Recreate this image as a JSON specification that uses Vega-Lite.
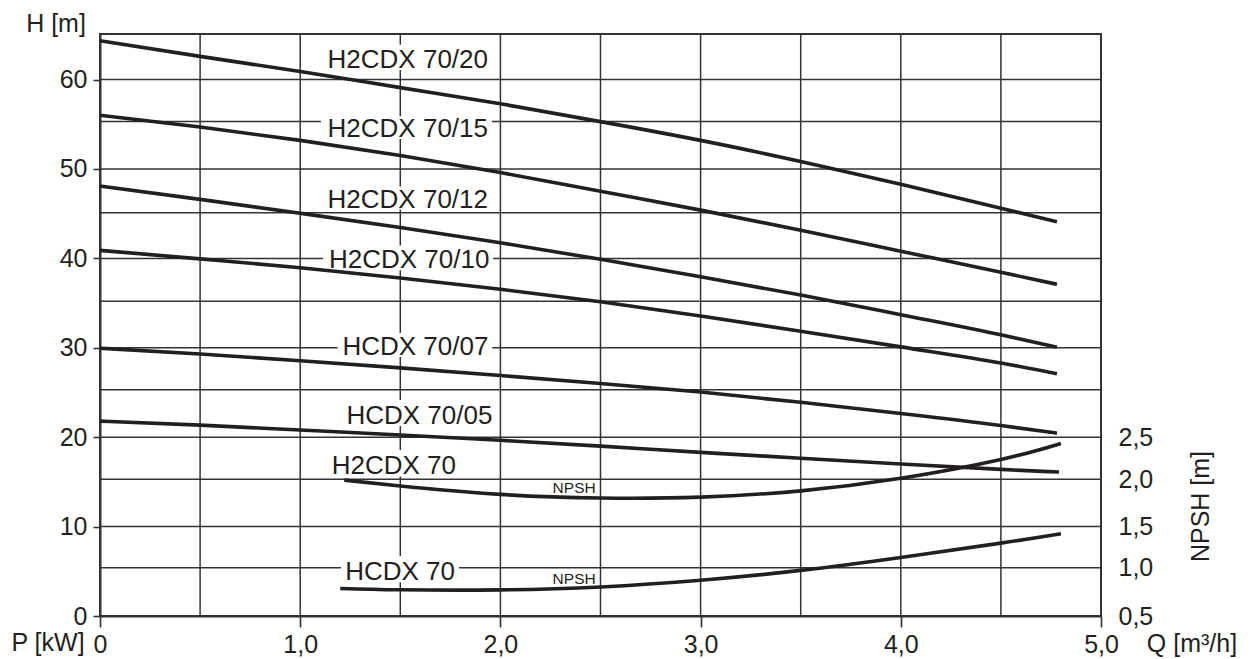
{
  "$schema": "https://vega.github.io/schema/vega-lite/v6.json",
  "width": 1001,
  "height": 582,
  "autosize": {"type": "none"},
  "padding": {"left": 100, "top": 34, "right": 157, "bottom": 43},
  "background": "white",
  "config": {
    "view": {"stroke": "#333333", "strokeWidth": 2},
    "font": "Liberation Sans",
    "axis": {
      "labelFont": "Liberation Sans",
      "titleFont": "Liberation Sans",
      "labelColor": "#231f20",
      "titleColor": "#231f20",
      "labelFontSize": 25,
      "titleFontSize": 25,
      "titleFontWeight": "normal",
      "domainColor": "#333333",
      "tickColor": "#333333",
      "domainWidth": 2,
      "tickWidth": 1.6,
      "grid": false,
      "labelFlush": false,
      "labelOverlap": false
    }
  },
  "datasets": {
    "vgrid": [
      {"Q": 0.5}, {"Q": 1}, {"Q": 1.5}, {"Q": 2}, {"Q": 2.5},
      {"Q": 3}, {"Q": 3.5}, {"Q": 4}, {"Q": 4.5}
    ],
    "hgrid": [
      {"H": 5.4}, {"H": 10}, {"H": 15.3}, {"H": 20}, {"H": 25.3}, {"H": 30},
      {"H": 35.2}, {"H": 40}, {"H": 45.1}, {"H": 50}, {"H": 55.3}, {"H": 60}
    ],
    "boxes": [
      {"label": "H2CDX 70/20", "Q1": 1.104, "Q2": 1.958, "H1": 61.07, "H2": 63.9},
      {"label": "H2CDX 70/15", "Q1": 1.104, "Q2": 1.958, "H1": 53.35, "H2": 55.9},
      {"label": "H2CDX 70/12", "Q1": 1.104, "Q2": 1.958, "H1": 45.46, "H2": 48.03},
      {"label": "H2CDX 70/10", "Q1": 1.114, "Q2": 1.964, "H1": 38.68, "H2": 41.45},
      {"label": "HCDX 70/07", "Q1": 1.187, "Q2": 1.959, "H1": 28.97, "H2": 31.66},
      {"label": "HCDX 70/05", "Q1": 1.204, "Q2": 1.983, "H1": 21.24, "H2": 24.16},
      {"label": "H2CDX 70", "Q1": 1.138, "Q2": 1.798, "H1": 15.6, "H2": 18.56},
      {"label": "HCDX 70", "Q1": 1.204, "Q2": 1.793, "H1": 3.77, "H2": 6.72}
    ],
    "curves": [
      {"model": "H2CDX 70/20", "Q": 0, "H": 64.35},
      {"model": "H2CDX 70/20", "Q": 0.5, "H": 62.6},
      {"model": "H2CDX 70/20", "Q": 1, "H": 60.9},
      {"model": "H2CDX 70/20", "Q": 1.5, "H": 59.1},
      {"model": "H2CDX 70/20", "Q": 2, "H": 57.3},
      {"model": "H2CDX 70/20", "Q": 2.5, "H": 55.3},
      {"model": "H2CDX 70/20", "Q": 3, "H": 53.2},
      {"model": "H2CDX 70/20", "Q": 3.5, "H": 50.85},
      {"model": "H2CDX 70/20", "Q": 4, "H": 48.3},
      {"model": "H2CDX 70/20", "Q": 4.5, "H": 45.6},
      {"model": "H2CDX 70/20", "Q": 4.78, "H": 44.1},
      {"model": "H2CDX 70/15", "Q": 0, "H": 56.0},
      {"model": "H2CDX 70/15", "Q": 0.5, "H": 54.7},
      {"model": "H2CDX 70/15", "Q": 1, "H": 53.2},
      {"model": "H2CDX 70/15", "Q": 1.5, "H": 51.5},
      {"model": "H2CDX 70/15", "Q": 2, "H": 49.6},
      {"model": "H2CDX 70/15", "Q": 2.5, "H": 47.5},
      {"model": "H2CDX 70/15", "Q": 3, "H": 45.4},
      {"model": "H2CDX 70/15", "Q": 3.5, "H": 43.15},
      {"model": "H2CDX 70/15", "Q": 4, "H": 40.8},
      {"model": "H2CDX 70/15", "Q": 4.5, "H": 38.45},
      {"model": "H2CDX 70/15", "Q": 4.78, "H": 37.1},
      {"model": "H2CDX 70/12", "Q": 0, "H": 48.1},
      {"model": "H2CDX 70/12", "Q": 0.5, "H": 46.6},
      {"model": "H2CDX 70/12", "Q": 1, "H": 45.05},
      {"model": "H2CDX 70/12", "Q": 1.5, "H": 43.45},
      {"model": "H2CDX 70/12", "Q": 2, "H": 41.75},
      {"model": "H2CDX 70/12", "Q": 2.5, "H": 39.9},
      {"model": "H2CDX 70/12", "Q": 3, "H": 37.95},
      {"model": "H2CDX 70/12", "Q": 3.5, "H": 35.9},
      {"model": "H2CDX 70/12", "Q": 4, "H": 33.7},
      {"model": "H2CDX 70/12", "Q": 4.5, "H": 31.45},
      {"model": "H2CDX 70/12", "Q": 4.78, "H": 30.05},
      {"model": "H2CDX 70/10", "Q": 0, "H": 40.9},
      {"model": "H2CDX 70/10", "Q": 0.5, "H": 39.95},
      {"model": "H2CDX 70/10", "Q": 1, "H": 38.95},
      {"model": "H2CDX 70/10", "Q": 1.5, "H": 37.8},
      {"model": "H2CDX 70/10", "Q": 2, "H": 36.55},
      {"model": "H2CDX 70/10", "Q": 2.5, "H": 35.15},
      {"model": "H2CDX 70/10", "Q": 3, "H": 33.55},
      {"model": "H2CDX 70/10", "Q": 3.5, "H": 31.85},
      {"model": "H2CDX 70/10", "Q": 4, "H": 30.1},
      {"model": "H2CDX 70/10", "Q": 4.5, "H": 28.3},
      {"model": "H2CDX 70/10", "Q": 4.78, "H": 27.1},
      {"model": "HCDX 70/07", "Q": 0, "H": 29.95},
      {"model": "HCDX 70/07", "Q": 0.5, "H": 29.3},
      {"model": "HCDX 70/07", "Q": 1, "H": 28.55},
      {"model": "HCDX 70/07", "Q": 1.5, "H": 27.75},
      {"model": "HCDX 70/07", "Q": 2, "H": 26.9},
      {"model": "HCDX 70/07", "Q": 2.5, "H": 26.0},
      {"model": "HCDX 70/07", "Q": 3, "H": 25.05},
      {"model": "HCDX 70/07", "Q": 3.5, "H": 23.9},
      {"model": "HCDX 70/07", "Q": 4, "H": 22.65},
      {"model": "HCDX 70/07", "Q": 4.5, "H": 21.3},
      {"model": "HCDX 70/07", "Q": 4.78, "H": 20.45},
      {"model": "HCDX 70/05", "Q": 0, "H": 21.8},
      {"model": "HCDX 70/05", "Q": 0.5, "H": 21.35},
      {"model": "HCDX 70/05", "Q": 1, "H": 20.8},
      {"model": "HCDX 70/05", "Q": 1.5, "H": 20.25},
      {"model": "HCDX 70/05", "Q": 2, "H": 19.65},
      {"model": "HCDX 70/05", "Q": 2.5, "H": 19.0},
      {"model": "HCDX 70/05", "Q": 3, "H": 18.3},
      {"model": "HCDX 70/05", "Q": 3.5, "H": 17.65},
      {"model": "HCDX 70/05", "Q": 4, "H": 17.0},
      {"model": "HCDX 70/05", "Q": 4.5, "H": 16.4},
      {"model": "HCDX 70/05", "Q": 4.79, "H": 16.1}
    ],
    "npsh": [
      {"model": "H2CDX 70", "Q": 1.22, "NPSH": 2.02},
      {"model": "H2CDX 70", "Q": 1.5, "NPSH": 1.955},
      {"model": "H2CDX 70", "Q": 2, "NPSH": 1.86},
      {"model": "H2CDX 70", "Q": 2.5, "NPSH": 1.82},
      {"model": "H2CDX 70", "Q": 3, "NPSH": 1.83},
      {"model": "H2CDX 70", "Q": 3.5, "NPSH": 1.9},
      {"model": "H2CDX 70", "Q": 4, "NPSH": 2.04},
      {"model": "H2CDX 70", "Q": 4.5, "NPSH": 2.25},
      {"model": "H2CDX 70", "Q": 4.8, "NPSH": 2.43},
      {"model": "HCDX 70", "Q": 1.2, "NPSH": 0.808},
      {"model": "HCDX 70", "Q": 1.5, "NPSH": 0.793},
      {"model": "HCDX 70", "Q": 2, "NPSH": 0.792},
      {"model": "HCDX 70", "Q": 2.5, "NPSH": 0.825},
      {"model": "HCDX 70", "Q": 3, "NPSH": 0.9},
      {"model": "HCDX 70", "Q": 3.5, "NPSH": 1.01},
      {"model": "HCDX 70", "Q": 4, "NPSH": 1.155},
      {"model": "HCDX 70", "Q": 4.5, "NPSH": 1.315},
      {"model": "HCDX 70", "Q": 4.8, "NPSH": 1.42}
    ],
    "labels": [
      {"label": "H2CDX 70/20", "Q": 1.938, "H": 61.3},
      {"label": "H2CDX 70/15", "Q": 1.938, "H": 53.57},
      {"label": "H2CDX 70/12", "Q": 1.938, "H": 45.69},
      {"label": "H2CDX 70/10", "Q": 1.945, "H": 38.9},
      {"label": "HCDX 70/07", "Q": 1.94, "H": 29.19},
      {"label": "HCDX 70/05", "Q": 1.96, "H": 21.47},
      {"label": "H2CDX 70", "Q": 1.778, "H": 15.87},
      {"label": "HCDX 70", "Q": 1.773, "H": 4.0}
    ],
    "small": [
      {"label": "NPSH", "Q": 2.476, "H": 13.71},
      {"label": "NPSH", "Q": 2.476, "H": 3.63}
    ]
  },
  "layer": [
    {
      "data": {"name": "vgrid"},
      "mark": {"type": "rule", "color": "#333333", "strokeWidth": 1.5},
      "encoding": {
        "x": {"field": "Q", "type": "quantitative", "scale": {"domain": [0, 5], "nice": false, "zero": false}, "axis": null}
      }
    },
    {
      "data": {"name": "hgrid"},
      "mark": {"type": "rule", "color": "#333333", "strokeWidth": 1.5},
      "encoding": {
        "y": {"field": "H", "type": "quantitative", "scale": {"domain": [0, 65.1], "nice": false}, "axis": null}
      }
    },
    {
      "data": {"name": "boxes"},
      "mark": {"type": "rect", "color": "white", "opacity": 1},
      "encoding": {
        "x": {"field": "Q1", "type": "quantitative", "scale": {"domain": [0, 5], "nice": false, "zero": false}, "axis": null},
        "x2": {"field": "Q2"},
        "y": {"field": "H1", "type": "quantitative", "scale": {"domain": [0, 65.1], "nice": false}, "axis": null},
        "y2": {"field": "H2"}
      }
    },
    {
      "data": {"name": "curves"},
      "mark": {"type": "line", "color": "#231f20", "strokeWidth": 3.6, "interpolate": "monotone", "strokeCap": "butt"},
      "encoding": {
        "x": {
          "field": "Q", "type": "quantitative",
          "scale": {"domain": [0, 5], "nice": false, "zero": false},
          "axis": {
            "orient": "bottom",
            "values": [0, 1, 2, 3, 4, 5],
            "labelExpr": "datum.value === 0 ? '0' : replace(format(datum.value, '.1f'), '.', ',')",
            "tickSize": 11,
            "labelPadding": 5,
            "title": "Q [m³/h]",
            "titleX": 1091.5,
            "titleY": 35.7,
            "titleAlign": "center",
            "titleBaseline": "alphabetic"
          }
        },
        "y": {
          "field": "H", "type": "quantitative",
          "scale": {"domain": [0, 65.1], "nice": false},
          "axis": {
            "orient": "left",
            "values": [0, 10, 20, 30, 40, 50, 60],
            "format": "d",
            "tickSize": 7,
            "labelPadding": 6,
            "title": "H [m]",
            "titleAngle": 0,
            "titleX": -44.5,
            "titleY": -2.3,
            "titleAlign": "center",
            "titleBaseline": "alphabetic"
          }
        },
        "detail": {"field": "model"}
      }
    },
    {
      "data": {"name": "labels"},
      "mark": {"type": "text", "align": "right", "baseline": "alphabetic", "fontSize": 26, "font": "Liberation Sans", "color": "#231f20"},
      "encoding": {
        "x": {"field": "Q", "type": "quantitative", "scale": {"domain": [0, 5], "nice": false, "zero": false}, "axis": null},
        "y": {"field": "H", "type": "quantitative", "scale": {"domain": [0, 65.1], "nice": false}, "axis": null},
        "text": {"field": "label"}
      }
    },
    {
      "data": {"name": "small"},
      "mark": {"type": "text", "align": "right", "baseline": "alphabetic", "fontSize": 15.5, "font": "Liberation Sans", "color": "#231f20"},
      "encoding": {
        "x": {"field": "Q", "type": "quantitative", "scale": {"domain": [0, 5], "nice": false, "zero": false}, "axis": null},
        "y": {"field": "H", "type": "quantitative", "scale": {"domain": [0, 65.1], "nice": false}, "axis": null},
        "text": {"field": "label"}
      }
    },
    {
      "data": {"name": "npsh"},
      "mark": {"type": "line", "color": "#231f20", "strokeWidth": 3.6, "interpolate": "natural", "strokeCap": "butt"},
      "encoding": {
        "x": {
          "field": "Q", "type": "quantitative",
          "scale": {"domain": [0, 5], "nice": false, "zero": false},
          "axis": {
            "orient": "top",
            "title": "P [kW]",
            "labels": false,
            "ticks": false,
            "domain": false,
            "grid": false,
            "titleX": -52.5,
            "titleY": 616.7,
            "titleAlign": "center",
            "titleBaseline": "alphabetic"
          }
        },
        "y": {
          "field": "NPSH", "type": "quantitative",
          "scale": {"domain": [0.5, 7.01], "nice": false, "zero": false},
          "axis": {
            "orient": "right",
            "title": "NPSH [m]",
            "values": [0.5, 1.04, 1.5, 2.03, 2.5],
            "labelExpr": "replace(format(datum.value, '.1f'), '.', ',')",
            "ticks": false,
            "domain": false,
            "grid": false,
            "labelPadding": 17,
            "titleAngle": 270,
            "titleX": 99,
            "titleY": 472,
            "titleAlign": "center",
            "titleBaseline": "middle"
          }
        },
        "detail": {"field": "model"}
      }
    }
  ],
  "resolve": {"scale": {"y": "independent"}, "axis": {"x": "independent", "y": "independent"}}
}
